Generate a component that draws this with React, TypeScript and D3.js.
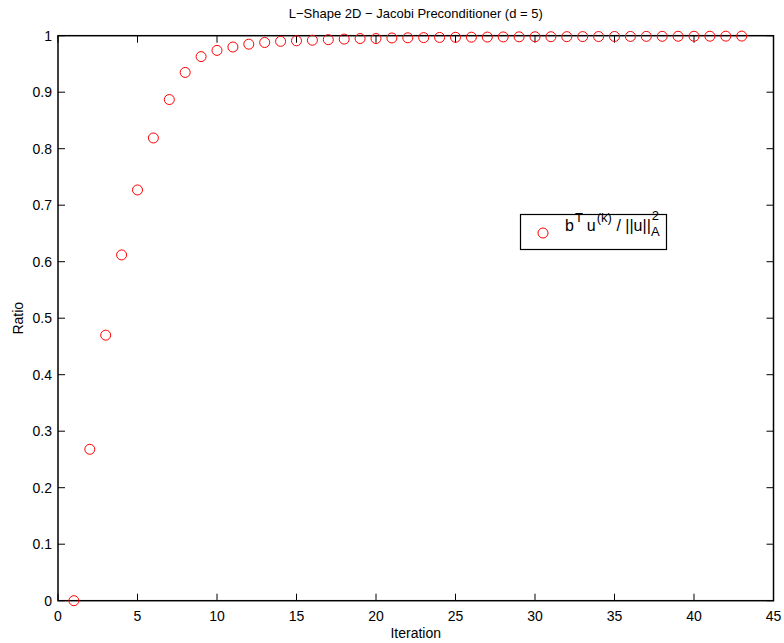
import React from "react";
import * as d3 from "d3";

const iterations = Array.from({ length: 43 }, (_, i) => i + 1);
const ratios = [
  0.0, 0.268, 0.470, 0.612, 0.727, 0.819, 0.887, 0.935, 0.963, 0.974,
  0.980, 0.985, 0.988, 0.990, 0.991, 0.992, 0.993, 0.994, 0.995, 0.995,
  0.996, 0.9963, 0.9966, 0.9969, 0.9972, 0.9974, 0.9976, 0.9978, 0.998, 0.9981,
  0.9982, 0.9983, 0.9984, 0.9985, 0.9986, 0.9987, 0.9988, 0.9989, 0.999, 0.999,
  0.9991, 0.9992, 0.9993,
];
const xTicks = [0, 5, 10, 15, 20, 25, 30, 35, 40, 45];
const yTicks = [0, 0.1, 0.2, 0.3, 0.4, 0.5, 0.6, 0.7, 0.8, 0.9, 1];

const W = 784, H = 643;
const left = 58, right = 773.5, top = 35.7, bottom = 600.7;

export default function App() {
  const x = d3.scaleLinear().domain([0, 45]).range([left, right]);
  const y = d3.scaleLinear().domain([0, 1]).range([bottom, top]);
  const font = "Liberation Sans, Arial, Helvetica, sans-serif";
  const tl = 7;
  return (
    <svg width={W} height={H} style={{ position: "absolute", left: 0, top: 0 }} fontFamily={font}>
      <rect x={0} y={0} width={W} height={H} fill="white" />
      {xTicks.map((t) => (
        <g key={"x" + t}>
          <line x1={x(t)} x2={x(t)} y1={bottom} y2={bottom - tl} stroke="black" />
          <line x1={x(t)} x2={x(t)} y1={top} y2={top + tl} stroke="black" />
          <text x={x(t)} y={bottom + 20} fontSize={14} textAnchor="middle">{t}</text>
        </g>
      ))}
      {yTicks.map((t) => (
        <g key={"y" + t}>
          <line x1={left} x2={left + tl} y1={y(t)} y2={y(t)} stroke="black" />
          <line x1={right} x2={right - tl} y1={y(t)} y2={y(t)} stroke="black" />
          <text x={left - 6} y={y(t) + 5} fontSize={14} textAnchor="end">{d3.format("")(+t.toFixed(1))}</text>
        </g>
      ))}
      <rect x={left} y={top} width={right - left} height={bottom - top} fill="none" stroke="black" strokeWidth={1.5} />
      {iterations.map((it, i) => (
        <circle key={it} cx={x(it)} cy={y(ratios[i])} r={5} fill="none" stroke="#ff0000" strokeWidth={1} />
      ))}
      <text x={(left + right) / 2} y={18} fontSize={13} textAnchor="middle">L−Shape 2D − Jacobi Preconditioner (d = 5)</text>
      <text x={(left + right) / 2} y={638} fontSize={14} textAnchor="middle">Iteration</text>
      <text transform={`translate(23,${(top + bottom) / 2}) rotate(-90)`} fontSize={14} textAnchor="middle">Ratio</text>
      <g>
        <rect x={520.5} y={214.5} width={146} height={35} fill="white" stroke="black" strokeWidth={1.2} />
        <circle cx={543} cy={233} r={5} fill="none" stroke="#ff0000" />
        <text x={565} y={231} fontSize={16}>
          <tspan>b</tspan>
          <tspan dy={-9} dx={1} fontSize={13}>T</tspan>
          <tspan dy={9} dx={4}>u</tspan>
          <tspan dy={-9} dx={1} fontSize={13}>(k)</tspan>
          <tspan dy={9}> / ||u||</tspan>
          <tspan dy={-11} dx={1} fontSize={13}>2</tspan>
          <tspan dy={16} dx={-8} fontSize={13}>A</tspan>
        </text>
      </g>
    </svg>
  );
}
